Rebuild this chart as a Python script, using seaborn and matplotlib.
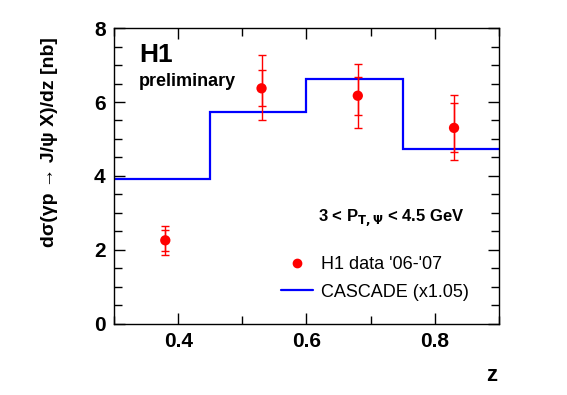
import numpy as np
import pandas as pd
import matplotlib.pyplot as plt
import seaborn as sns
from matplotlib.lines import Line2D
from matplotlib.ticker import MultipleLocator

# H1 data points
z_data = [0.38, 0.53, 0.68, 0.83]
xsec = [2.26, 6.37, 6.17, 5.30]
stat_up = [0.29, 0.50, 0.51, 0.66]
stat_dn = [0.29, 0.49, 0.52, 0.66]
tot_up = [0.39, 0.89, 0.87, 0.89]
tot_dn = [0.40, 0.86, 0.88, 0.88]

# CASCADE prediction (x1.05)
z_edges = [0.3, 0.45, 0.6, 0.75, 0.9]
cascade = [3.91, 5.74, 6.63, 4.74]

df = pd.DataFrame({'z': z_data, 'xsec': xsec})

sns.set_style("ticks")
plt.rcParams['font.family'] = ['Liberation Sans', 'DejaVu Sans']
plt.rcParams['text.color'] = 'black'
plt.rcParams['axes.labelcolor'] = 'black'
plt.rcParams['xtick.color'] = 'black'
plt.rcParams['ytick.color'] = 'black'
plt.rcParams['axes.edgecolor'] = 'black'

fig = plt.figure(figsize=(5.67, 3.95), dpi=100)
ax = fig.add_axes([0.201, 0.180, 0.679, 0.749])

# CASCADE histogram
ax.stairs(cascade, z_edges, baseline=None, color='#0000ff', lw=1.6, zorder=2)

# error bars (total and statistical)
ax.errorbar(z_data, xsec, yerr=[tot_dn, tot_up], fmt='none', ecolor='#ff0000',
            elinewidth=1.0, capsize=3, capthick=1.0, zorder=3)
ax.errorbar(z_data, xsec, yerr=[stat_dn, stat_up], fmt='none', ecolor='#ff0000',
            elinewidth=1.0, capsize=3, capthick=1.0, zorder=3)
sns.scatterplot(data=df, x='z', y='xsec', color='#ff0000', s=55, edgecolor='none',
                ax=ax, zorder=4)

ax.set_xlim(0.3, 0.9)
ax.set_ylim(0, 8)
ax.xaxis.set_major_locator(MultipleLocator(0.2))
ax.xaxis.set_minor_locator(MultipleLocator(0.1))
ax.yaxis.set_major_locator(MultipleLocator(2))
ax.yaxis.set_minor_locator(MultipleLocator(0.5))
ax.tick_params(which='both', direction='in', top=True, right=True, width=1.0)
ax.tick_params(which='major', length=8, labelsize=15, pad=6)
ax.tick_params(which='minor', length=6)
for lbl in ax.get_xticklabels() + ax.get_yticklabels():
    lbl.set_fontweight('bold')
for sp in ax.spines.values():
    sp.set_linewidth(1.0)

ax.set_xlabel('z', fontsize=16, fontweight='bold')
ax.xaxis.set_label_coords(0.98, -0.14)
ax.set_ylabel('dσ(γp → J/ψ X)/dz [nb]', fontsize=14, fontweight='bold')
ax.yaxis.set_label_coords(-0.145, 0.615)

ax.text(0.065, 0.91, 'H1', transform=ax.transAxes, fontsize=19, fontweight='bold',
        va='center')
ax.text(0.065, 0.82, 'preliminary', transform=ax.transAxes, fontsize=13,
        fontweight='bold', va='center')
ax.text(0.53, 0.358, r'3 < P$_{\mathbf{T,\Psi}}$ < 4.5 GeV', transform=ax.transAxes,
        fontsize=12, fontweight='bold', va='center')

handles = [Line2D([], [], color='#ff0000', marker='o', ls='none', markersize=6),
           Line2D([], [], color='#0000ff', lw=1.6)]
ax.legend(handles, ["H1 data '06-'07", 'CASCADE (x1.05)'], loc='upper left',
          bbox_to_anchor=(0.392, 0.285), frameon=False, fontsize=13,
          handlelength=1.75, handletextpad=0.45, labelspacing=0.6)

plt.savefig('out.png', dpi=100)
